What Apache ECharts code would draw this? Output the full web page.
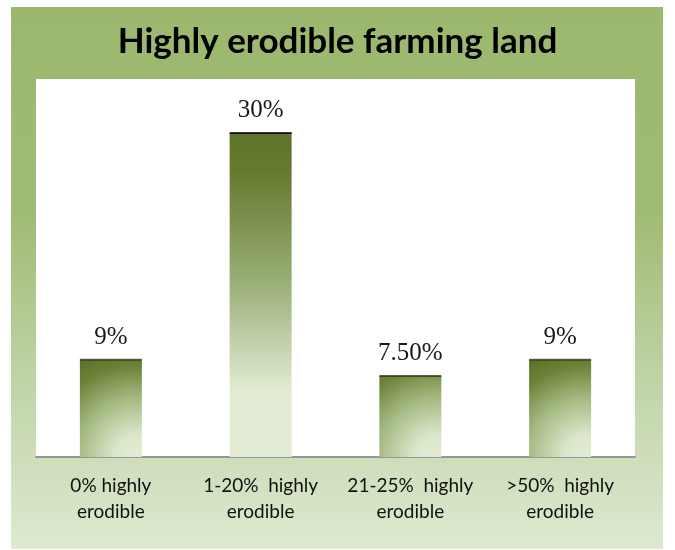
<!DOCTYPE html>
<html>
<head>
<meta charset="utf-8">
<script src="https://cdn.jsdelivr.net/npm/echarts@6/dist/echarts.min.js"></script>
<style>
html,body{margin:0;padding:0;background:#fff;}
#chart{width:675px;height:550px;}
</style>
</head>
<body>
<div id="chart"></div>
<script>
const titleText = 'Highly erodible farming land';
const categories = ['0% highly\nerodible', '1-20%  highly\nerodible', '21-25%  highly\nerodible', '>50%  highly\nerodible'];
const values = [9, 30, 7.5, 9];
const valueLabels = ['9%', '30%', '7.50%', '9%'];

const DARK = '#5e742c', MID = '#a3b880', LIGHT = '#e2ecd4';
function barFill(v) {
  if (v > 20) {
    return new echarts.graphic.LinearGradient(0, 0, 0, 1, [
      {offset: 0, color: DARK}, {offset: 0.12, color: '#66792f'},
      {offset: 0.45, color: '#98ad74'}, {offset: 0.8, color: LIGHT}, {offset: 1, color: LIGHT}
    ]);
  }
  return new echarts.graphic.RadialGradient(0.92, 1, 1.75, [
    {offset: 0, color: LIGHT}, {offset: 0.2, color: '#dbe7cb'},
    {offset: 0.55, color: MID}, {offset: 0.85, color: '#6d8037'}, {offset: 1, color: DARK}
  ]);
}

const chart = echarts.init(document.getElementById('chart'), null, {renderer: 'canvas'});
chart.setOption({
  animation: false,
  backgroundColor: '#ffffff',
  graphic: [
    {type: 'rect', z: -10, shape: {x: 11, y: 7, width: 652, height: 542},
     style: {fill: new echarts.graphic.LinearGradient(0, 0, 0, 1, [
       {offset: 0, color: '#9cb86e'}, {offset: 0.38, color: '#a0bb73'},
       {offset: 0.72, color: '#c3d6ab'}, {offset: 1, color: '#dde9d0'}])}},
    {type: 'rect', z: -9, shape: {x: 36, y: 79, width: 599, height: 378}, style: {fill: '#ffffff'}}
  ],
  title: {
    text: titleText, left: 'center', top: 24, padding: 0,
    textStyle: {fontFamily: 'Lato', fontWeight: 'bold', fontSize: 35, color: '#000', lineHeight: 36}
  },
  grid: {left: 36, right: 40, top: 79, bottom: 93, containLabel: false},
  xAxis: {
    type: 'category', data: categories,
    axisLine: {lineStyle: {color: '#969696', width: 2}},
    axisTick: {show: false},
    axisLabel: {color: '#111', fontFamily: 'Lato', fontSize: 19, lineHeight: 26, margin: 16, interval: 0}
  },
  yAxis: {
    type: 'value', min: 0, max: 35, interval: 5, show: false,
    splitLine: {show: false}
  },
  series: [
    {
      type: 'bar', barWidth: 62,
      data: values.map(v => ({value: v, itemStyle: {color: barFill(v)}})),
      label: {
        show: true, position: 'top', distance: 10,
        formatter: p => valueLabels[p.dataIndex],
        fontFamily: 'Liberation Serif', fontSize: 25, color: '#1a1a1a'
      }
    },
    {
      type: 'scatter', symbol: 'rect', symbolSize: [62, 2], silent: true, z: 3,
      data: values.map(v => ({value: v, itemStyle: {color: v > 20 ? '#000' : '#2f3a14'}}))
    }
  ]
});
</script>
</body>
</html>
